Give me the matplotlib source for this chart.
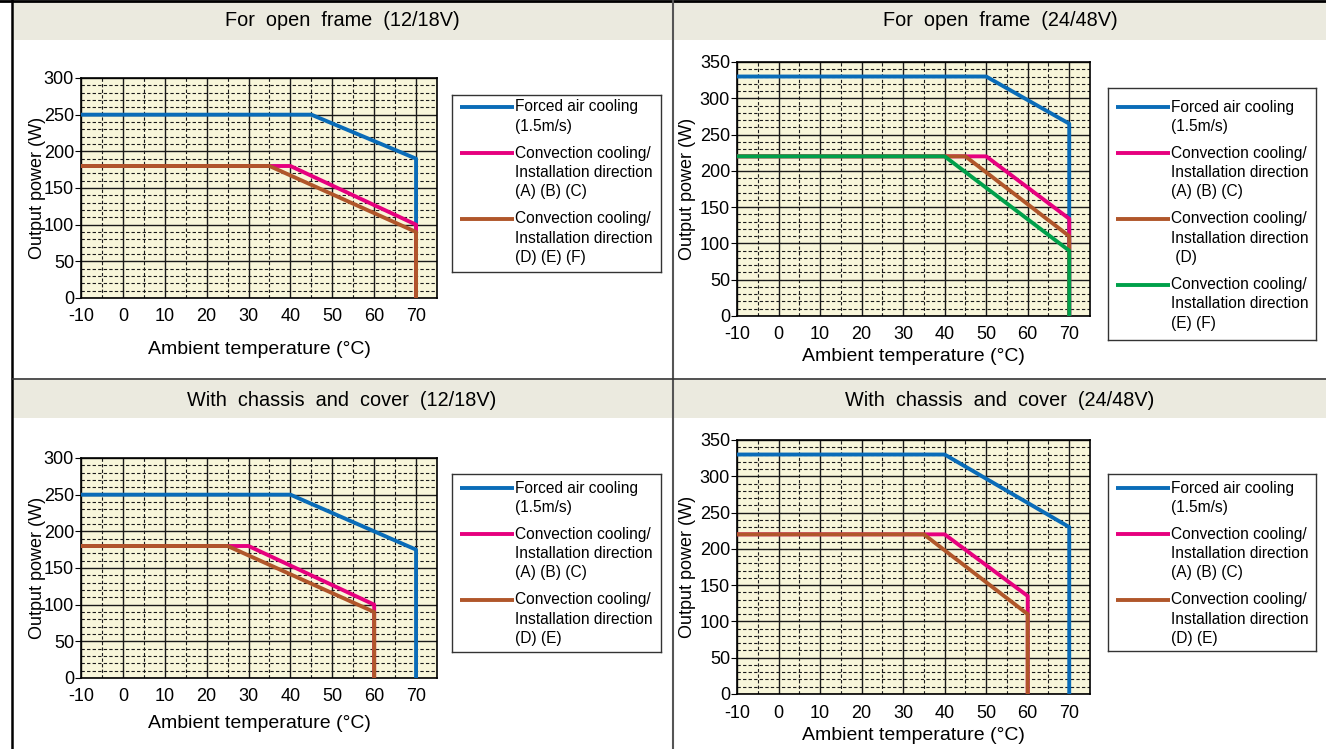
import matplotlib
matplotlib.use('Agg')

import matplotlib.pyplot as plt
from matplotlib.patches import Rectangle
from matplotlib.ticker import MultipleLocator

plt.rcParams['font.family'] = ['Liberation Sans', 'DejaVu Sans']
plt.rcParams['axes.unicode_minus'] = False

# Data
temp_ticks = [-10, 0, 10, 20, 30, 40, 50, 60, 70]

# For open frame (12/18V)
of12_forced_t = [-10, 45, 70, 70]
of12_forced_w = [250, 250, 190, 0]
of12_abc_t = [-10, 40, 70, 70]
of12_abc_w = [180, 180, 100, 0]
of12_def_t = [-10, 35, 70, 70]
of12_def_w = [180, 180, 90, 0]

# For open frame (24/48V)
of24_forced_t = [-10, 50, 70, 70]
of24_forced_w = [330, 330, 265, 0]
of24_abc_t = [-10, 50, 70, 70]
of24_abc_w = [220, 220, 134, 0]
of24_d_t = [-10, 45, 70, 70]
of24_d_w = [220, 220, 110, 0]
of24_ef_t = [-10, 40, 70, 70]
of24_ef_w = [220, 220, 90, 0]

# With chassis and cover (12/18V)
ch12_forced_t = [-10, 40, 70, 70]
ch12_forced_w = [250, 250, 175, 0]
ch12_abc_t = [-10, 30, 60, 60]
ch12_abc_w = [180, 180, 100, 0]
ch12_de_t = [-10, 25, 60, 60]
ch12_de_w = [180, 180, 90, 0]

# With chassis and cover (24/48V)
ch24_forced_t = [-10, 40, 70, 70]
ch24_forced_w = [330, 330, 230, 0]
ch24_abc_t = [-10, 40, 60, 60]
ch24_abc_w = [220, 220, 135, 0]
ch24_de_t = [-10, 35, 60, 60]
ch24_de_w = [220, 220, 110, 0]

lbl_forced = 'Forced air cooling\n(1.5m/s)'
lbl_abc = 'Convection cooling/\nInstallation direction\n(A) (B) (C)'
lbl_def = 'Convection cooling/\nInstallation direction\n(D) (E) (F)'
lbl_d = 'Convection cooling/\nInstallation direction\n (D)'
lbl_ef = 'Convection cooling/\nInstallation direction\n(E) (F)'
lbl_de = 'Convection cooling/\nInstallation direction\n(D) (E)'

BLUE = '#0a6cb8'
PINK = '#e6007e'
BROWN = '#b0562a'
GREEN = '#00a04a'
PLOT_BG = '#f8f6da'
HEAD_BG = '#ebeadf'

W, H = 1326, 749
fig = plt.figure(figsize=(W / 100, H / 100), dpi=100)


def px_axes(left, top, right, bottom):
    return fig.add_axes([left / W, 1 - bottom / H, (right - left) / W, (bottom - top) / H])


# background frame, headers
bg = fig.add_axes([0, 0, 1, 1])
bg.set_xlim(0, W)
bg.set_ylim(H, 0)
bg.axis('off')
for x0, y0, w in [(13, 2, 660), (674, 2, 652), (13, 380, 660), (674, 380, 652)]:
    bg.add_patch(Rectangle((x0, y0), w, 38, color=HEAD_BG, lw=0))
bg.plot([0, W], [1, 1], color='black', lw=2)
bg.plot([12, 12], [0, H], color='black', lw=1.8)
bg.plot([673, 673], [0, H], color='#555555', lw=1.5)
bg.plot([12, W], [379, 379], color='#333333', lw=1.2)

titles = [('For  open  frame  (12/18V)', 342, 21),
          ('For  open  frame  (24/48V)', 1000, 21),
          ('With  chassis  and  cover  (12/18V)', 342, 400),
          ('With  chassis  and  cover  (24/48V)', 1000, 400)]
for txt, x, y in titles:
    bg.text(x, y, txt, ha='center', va='center', fontsize=14.3)


def draw_panel(box, series, ymax, tick_pad, xlab_off, ylab_off):
    left, top, right, bottom = box
    ax = px_axes(left, top, right, bottom)
    ax.set_facecolor(PLOT_BG)
    for t, w, c in series:
        ax.plot(t, w, color=c, lw=2.8, zorder=3)
    ax.set_xlim(-10, 75)
    ax.set_ylim(0, ymax)
    ax.set_xticks(temp_ticks)
    ax.set_yticks(range(0, ymax + 1, 50))
    ax.xaxis.set_minor_locator(MultipleLocator(5))
    ax.yaxis.set_minor_locator(MultipleLocator(10))
    ax.grid(which='major', color='#1a1a1a', lw=1.0, zorder=1)
    ax.grid(which='minor', color='#1a1a1a', lw=0.8, ls=(0, (3, 2)), zorder=1)
    ax.set_axisbelow(True)
    ax.tick_params(which='minor', length=0)
    ax.tick_params(axis='x', which='major', length=0, pad=tick_pad, labelsize=13)
    ax.tick_params(axis='y', which='major', length=4, pad=1, labelsize=13)
    for s in ax.spines.values():
        s.set_color('black')
        s.set_linewidth(1.2)
    h = bottom - top
    w = right - left
    ax.set_xlabel('Ambient temperature (°C)', fontsize=14)
    ax.xaxis.label.set_va('center')
    ax.xaxis.set_label_coords(0.5, -xlab_off / h)
    ax.set_ylabel('Output power (W)', fontsize=13)
    ax.yaxis.label.set_va('center')
    ax.yaxis.set_label_coords(-ylab_off / w, 0.5)
    return ax


def draw_legend(box, items, first):
    left, top, right, bottom = box
    lax = px_axes(left, top, right, bottom)
    lax.set_xlim(0, right - left)
    lax.set_ylim(bottom - top, 0)
    lax.set_xticks([])
    lax.set_yticks([])
    lax.set_facecolor('white')
    for s in lax.spines.values():
        s.set_color('#333333')
        s.set_linewidth(1.0)
    y = first
    for label, color in items:
        lax.plot([8, 62], [y, y], color=color, lw=2.8, solid_capstyle='butt')
        lines = label.split('\n')
        for i, ln in enumerate(lines):
            lax.text(63, y + 19.3 * i, ln, ha='left', va='center', fontsize=11.2)
        y += 19.3 * (len(lines) - 1) + 27


draw_panel((81, 78, 437, 298),
           [(of12_forced_t, of12_forced_w, BLUE),
            (of12_abc_t, of12_abc_w, PINK),
            (of12_def_t, of12_def_w, BROWN)],
           300, 7.5, 52, 44)
draw_legend((452, 95, 661, 272),
            [(lbl_forced, BLUE), (lbl_abc, PINK), (lbl_def, BROWN)], 12)

draw_panel((737, 62, 1090, 316),
           [(of24_forced_t, of24_forced_w, BLUE),
            (of24_abc_t, of24_abc_w, PINK),
            (of24_d_t, of24_d_w, BROWN),
            (of24_ef_t, of24_ef_w, GREEN)],
           350, 7, 41, 49)
draw_legend((1108, 88, 1316, 340),
            [(lbl_forced, BLUE), (lbl_abc, PINK), (lbl_d, BROWN), (lbl_ef, GREEN)], 19)

draw_panel((81, 458, 437, 678),
           [(ch12_forced_t, ch12_forced_w, BLUE),
            (ch12_abc_t, ch12_abc_w, PINK),
            (ch12_de_t, ch12_de_w, BROWN)],
           300, 7.5, 46, 44)
draw_legend((452, 474, 661, 652),
            [(lbl_forced, BLUE), (lbl_abc, PINK), (lbl_de, BROWN)], 14)

draw_panel((737, 440, 1090, 694),
           [(ch24_forced_t, ch24_forced_w, BLUE),
            (ch24_abc_t, ch24_abc_w, PINK),
            (ch24_de_t, ch24_de_w, BROWN)],
           350, 8, 41, 49)
draw_legend((1108, 474, 1316, 651),
            [(lbl_forced, BLUE), (lbl_abc, PINK), (lbl_de, BROWN)], 14)

plt.savefig('out.png', dpi=100)
